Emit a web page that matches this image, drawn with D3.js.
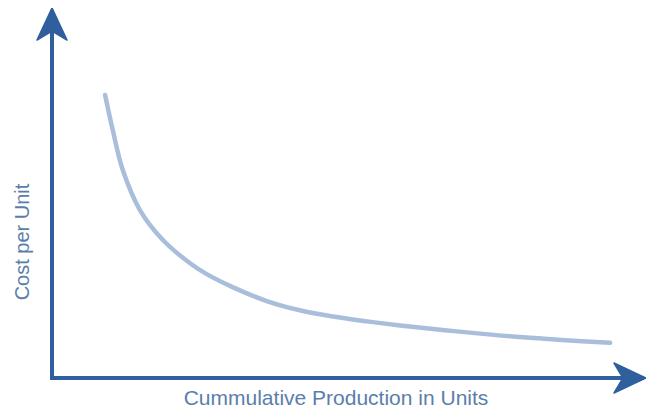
<!DOCTYPE html>
<html>
<head>
<meta charset="utf-8">
<script src="https://cdn.jsdelivr.net/npm/d3@7"></script>
<style>
  html, body { margin: 0; padding: 0; background: #fff; }
  svg { display: block; }
</style>
</head>
<body>
<svg id="chart" width="647" height="410"></svg>
<script>
// cumulative production (arbitrary units, 0-100)
const production = [9.0, 10.3, 12.0, 14.9, 18.8, 23.4, 26.3, 30.7, 36.4, 42.0, 47.6, 53.4, 59.0, 68.6, 79.8, 94.6];
// cost per unit (arbitrary units, 0-100)
const cost = [76.5, 67.0, 56.2, 45.4, 37.3, 31.0, 28.0, 24.5, 20.8, 18.3, 16.6, 15.3, 14.2, 12.6, 11.0, 9.5];

const xLabel = "Cummulative Production in Units";
const yLabel = "Cost per Unit";

const width = 647, height = 410;
const axisColor = "#2f5f9d";
const curveColor = "#a9bedb";
const textColor = "#5a7eac";

const svg = d3.select("#chart");

const x = d3.scaleLinear().domain([0, 100]).range([52, 642]);
const y = d3.scaleLinear().domain([0, 100]).range([378, 8]);

// arrow heads
const defs = svg.append("defs");
defs.append("marker")
  .attr("id", "arrow")
  .attr("markerUnits", "userSpaceOnUse")
  .attr("viewBox", "-34 -18 36 36")
  .attr("refX", 0)
  .attr("refY", 0)
  .attr("markerWidth", 36)
  .attr("markerHeight", 36)
  .attr("orient", "auto")
  .append("path")
  .attr("d", "M2,0 L-30,-15 L-21,0 L-30,15 Z")
  .attr("fill", axisColor)
  .attr("stroke", axisColor)
  .attr("stroke-width", 1.5)
  .attr("stroke-linejoin", "round");

// y axis
svg.append("line")
  .attr("x1", x(0)).attr("y1", y(0))
  .attr("x2", x(0)).attr("y2", y(100) + 2)
  .attr("stroke", axisColor)
  .attr("stroke-width", 4)
  .attr("marker-end", "url(#arrow)");

// x axis
svg.append("line")
  .attr("x1", x(0) - 2).attr("y1", y(0))
  .attr("x2", x(100) + 2).attr("y2", y(0))
  .attr("stroke", axisColor)
  .attr("stroke-width", 4)
  .attr("marker-end", "url(#arrow)");

// learning curve
const pts = production.map((p, i) => [p, cost[i]]);
const line = d3.line()
  .x(d => x(d[0]))
  .y(d => y(d[1]))
  .curve(d3.curveCatmullRom);

svg.append("path")
  .datum(pts)
  .attr("d", line)
  .attr("fill", "none")
  .attr("stroke", curveColor)
  .attr("stroke-width", 4.5)
  .attr("stroke-linecap", "round");

// labels
svg.append("text")
  .attr("x", 336)
  .attr("y", 405)
  .attr("text-anchor", "middle")
  .attr("font-family", "Liberation Sans, Arial, sans-serif")
  .attr("font-size", 21)
  .attr("fill", textColor)
  .text(xLabel);

svg.append("text")
  .attr("transform", "translate(29,242) rotate(-90)")
  .attr("text-anchor", "middle")
  .attr("font-family", "Liberation Sans, Arial, sans-serif")
  .attr("font-size", 20)
  .attr("fill", textColor)
  .text(yLabel);
</script>
</body>
</html>
